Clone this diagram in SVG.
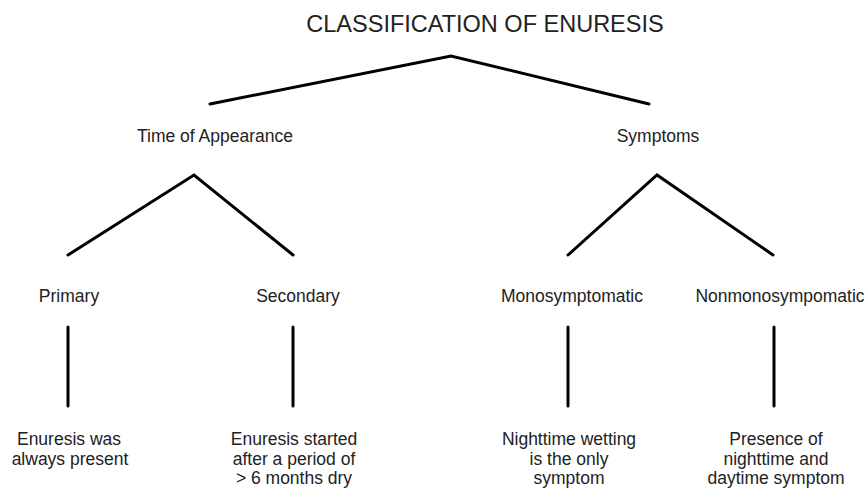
<svg xmlns="http://www.w3.org/2000/svg" width="868" height="489" viewBox="0 0 868 489">
<style>
text{font-family:"Liberation Sans",Arial,sans-serif;fill:#222;text-anchor:middle;font-size:17.5px}
.title{font-size:23.5px}
.c{stroke:#000;stroke-width:3;fill:none;stroke-linejoin:miter;stroke-linecap:round}
</style>
<rect width="868" height="489" fill="#fff"/>
<g id="connectors">
<polyline class="c" points="210,104 451,56 649,104"/>
<polyline class="c" points="68,255 194,175 293,255"/>
<polyline class="c" points="568,255 657,175 773,255"/>
<line class="c" x1="68" y1="327" x2="68" y2="406"/>
<line class="c" x1="293" y1="327" x2="293" y2="406"/>
<line class="c" x1="568" y1="327" x2="568" y2="406"/>
<line class="c" x1="774" y1="327" x2="774" y2="406"/>
</g>
<g id="root"><text class="title" x="485" y="32">CLASSIFICATION OF ENURESIS</text></g>
<g id="time"><text x="215" y="142">Time of Appearance</text></g>
<g id="symptoms"><text x="658" y="142">Symptoms</text></g>
<g id="primary"><text x="69" y="302">Primary</text></g>
<g id="secondary"><text x="298" y="302">Secondary</text></g>
<g id="mono"><text x="572" y="302">Monosymptomatic</text></g>
<g id="nonmono"><text x="780" y="302">Nonmonosympomatic</text></g>
<g id="primary-desc"><text x="69" y="445">Enuresis was</text><text x="70" y="465">always present</text></g>
<g id="secondary-desc"><text x="294" y="445">Enuresis started</text><text x="294" y="465">after a period of</text><text x="294" y="484">&gt; 6 months dry</text></g>
<g id="mono-desc"><text x="569" y="445">Nighttime wetting</text><text x="569" y="465">is the only</text><text x="569" y="484">symptom</text></g>
<g id="nonmono-desc"><text x="776" y="445">Presence of</text><text x="776" y="465">nighttime and</text><text x="776" y="484">daytime symptom</text></g>
</svg>
